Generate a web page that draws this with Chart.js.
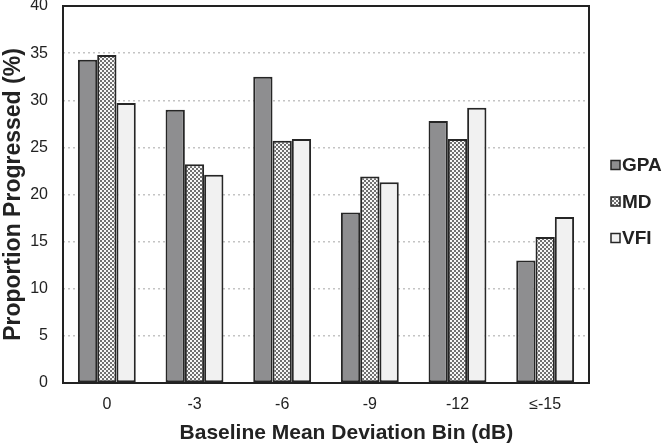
<!DOCTYPE html>
<html>
<head>
<meta charset="utf-8">
<script src="https://cdn.jsdelivr.net/npm/chart.js@4.4.1/dist/chart.umd.min.js"></script>
<style>
  html, body { margin: 0; padding: 0; background: #fff; }
  #wrap { width: 665px; height: 443px; position: relative; }
</style>
</head>
<body>
<div id="wrap"><canvas id="chart"></canvas></div>
<script>
const bins = ['0', '-3', '-6', '-9', '-12', '≤-15'];
const gpaValues = [34.3, 29.0, 32.5, 18.1, 27.8, 13.0];
const mdValues = [34.8, 23.2, 25.7, 21.9, 25.9, 15.5];
const vfiValues = [29.7, 22.1, 25.9, 21.3, 29.2, 17.6];
const yTicks = [0, 5, 10, 15, 20, 25, 30, 35, 40];

const FONT = "'Liberation Sans', Arial, sans-serif";

function makeDots() {
    const c = document.createElement('canvas');
    c.width = 4; c.height = 4;
    const g = c.getContext('2d');
    g.fillStyle = '#f7f7f7';
    g.fillRect(0, 0, 4, 4);
    g.fillStyle = '#707070';
    g.fillRect(0, 0, 2, 2);
    g.fillRect(2, 2, 2, 2);
    return g.createPattern(c, 'repeat');
}
const dots = makeDots();

// box around plot + legend on the right
const frameAndLegend = {
    id: 'frameAndLegend',
    afterDatasetsDraw(chart) {
        const a = chart.chartArea;
        const ctx = chart.ctx;
        ctx.save();
        ctx.strokeStyle = '#222';
        ctx.lineWidth = 2;
        ctx.strokeRect(a.left, a.top, a.right - a.left, a.bottom - a.top);

        const midY = (a.top + a.bottom) / 2 + 7;
        ctx.font = 'bold 19px ' + FONT;
        ctx.textBaseline = 'middle';
        chart.data.datasets.forEach((ds, i) => {
            const y = midY + (i - 1) * 36.5;
            const x = a.right + 22;
            ctx.fillStyle = ds.backgroundColor;
            ctx.fillRect(x, y - 4.5, 9, 9);
            ctx.lineWidth = 1.5;
            ctx.strokeStyle = '#262626';
            ctx.strokeRect(x, y - 4.5, 9, 9);
            ctx.fillStyle = '#222';
            ctx.fillText(ds.label, x + 11, y + 1);
        });
        ctx.restore();
    }
};

const barBase = { borderColor: '#262626', borderWidth: 2, borderSkipped: false, barPercentage: 1.0, categoryPercentage: 0.66 };

new Chart(document.getElementById('chart'), {
    type: 'bar',
    data: {
        labels: bins,
        datasets: [
            { label: 'GPA', data: gpaValues, backgroundColor: '#8e8e90', ...barBase },
            { label: 'MD', data: mdValues, backgroundColor: dots, ...barBase },
            { label: 'VFI', data: vfiValues, backgroundColor: '#f1f1f1', ...barBase }
        ]
    },
    options: {
        responsive: true, maintainAspectRatio: false, animation: false,
        layout: { padding: { top: 6, right: 76, left: 0, bottom: 0 } },
        plugins: {
            tooltip: { enabled: false },
            legend: { display: false }
        },
        scales: {
            x: {
                afterFit: (s) => { s.height = 60; },
                grid: { display: false },
                border: { display: false },
                ticks: { color: '#222', padding: 4, font: { family: FONT, size: 16 } },
                title: { display: true, text: '       Baseline Mean Deviation Bin (dB)', color: '#222', padding: { top: 4, bottom: -3 },
                         font: { family: FONT, size: 21, weight: 'bold' } }
            },
            y: {
                min: 0, max: 40,
                afterBuildTicks: (s) => { s.ticks = yTicks.map(v => ({ value: v })); },
                afterFit: (s) => { s.width = 63; s.paddingTop = 0; s.paddingBottom = 0; },
                grid: { color: '#c4c4c4', lineWidth: 1.5, drawTicks: false },
                border: { display: false, dash: [2, 3] },
                ticks: { color: '#222', padding: 15, font: { family: FONT, size: 16 } },
                title: { display: true, text: 'Proportion Progressed (%)', color: '#222', padding: 0,
                         font: { family: FONT, size: 23, weight: 'bold' } }
            }
        }
    },
    plugins: [frameAndLegend]
});
</script>
</body>
</html>
